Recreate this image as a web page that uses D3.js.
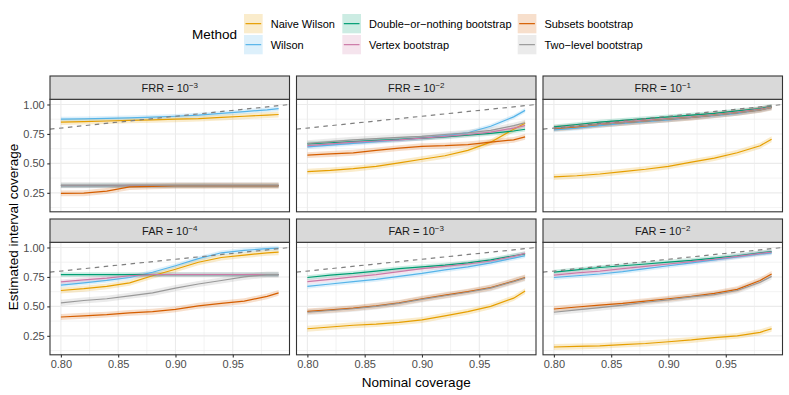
<!DOCTYPE html>
<html>
<head>
<meta charset="utf-8">
<script src="https://cdn.jsdelivr.net/npm/d3@7"></script>
<style>
  body { margin: 0; background: #fff; }
  svg { display: block; font-family: "Liberation Sans", Arial, Helvetica, sans-serif; }
</style>
</head>
<body>
<svg id="chart" width="789" height="395"></svg>
<script>
(function () {
  "use strict";

  // nominal coverage levels on the x axis
  const nominal = [0.80, 0.82, 0.84, 0.86, 0.88, 0.90, 0.92, 0.94, 0.96, 0.98, 0.99];

  const methods = ["Naive Wilson", "Wilson", "Double−or−nothing bootstrap",
    "Vertex bootstrap", "Subsets bootstrap", "Two−level bootstrap"];
  const methodColors = ["#E69F00", "#56B4E9", "#009E73", "#CC79A7", "#D55E00", "#999999"];

  // panels: FRR 1e-3, 1e-2, 1e-1, FAR 1e-4, 1e-3, 1e-2
  const panelRates = ["FRR", "FRR", "FRR", "FAR", "FAR", "FAR"];
  const panelExponents = ["−3", "−2", "−1", "−4", "−3", "−2"];

  // estimated coverage, one row per panel
  const naiveWilson = [
    [0.85, 0.855, 0.86, 0.865, 0.87, 0.875, 0.88, 0.89, 0.90, 0.91, 0.915],
    [0.43, 0.44, 0.455, 0.475, 0.505, 0.535, 0.565, 0.61, 0.68, 0.79, 0.84],
    [0.385, 0.395, 0.41, 0.43, 0.45, 0.475, 0.51, 0.545, 0.59, 0.65, 0.705],
    [0.635, 0.65, 0.67, 0.70, 0.76, 0.815, 0.875, 0.915, 0.935, 0.955, 0.96],
    [0.31, 0.325, 0.34, 0.35, 0.365, 0.385, 0.42, 0.455, 0.50, 0.57, 0.63],
    [0.155, 0.16, 0.165, 0.175, 0.185, 0.20, 0.215, 0.235, 0.25, 0.28, 0.31],
  ];
  const wilson = [
    [0.875, 0.878, 0.882, 0.886, 0.892, 0.90, 0.91, 0.925, 0.94, 0.955, 0.965],
    [0.64, 0.655, 0.67, 0.685, 0.70, 0.715, 0.735, 0.76, 0.815, 0.895, 0.95],
    [0.785, 0.80, 0.82, 0.84, 0.855, 0.87, 0.89, 0.905, 0.925, 0.955, 0.975],
    [0.68, 0.70, 0.72, 0.745, 0.79, 0.845, 0.905, 0.955, 0.975, 0.99, 0.995],
    [0.67, 0.69, 0.71, 0.73, 0.755, 0.78, 0.81, 0.835, 0.87, 0.91, 0.93],
    [0.745, 0.76, 0.775, 0.795, 0.82, 0.845, 0.87, 0.895, 0.92, 0.945, 0.955],
  ];
  const doubleOrNothing = [
    [0.31, 0.31, 0.312, 0.311, 0.31, 0.31, 0.311, 0.31, 0.31, 0.31, 0.31],
    [0.665, 0.675, 0.685, 0.695, 0.705, 0.715, 0.725, 0.74, 0.755, 0.775, 0.79],
    [0.81, 0.83, 0.85, 0.865, 0.88, 0.895, 0.91, 0.925, 0.945, 0.965, 0.985],
    [0.77, 0.77, 0.77, 0.77, 0.77, 0.77, 0.77, 0.77, 0.77, 0.77, 0.77],
    [0.745, 0.765, 0.78, 0.80, 0.82, 0.835, 0.85, 0.87, 0.895, 0.93, 0.945],
    [0.79, 0.81, 0.83, 0.845, 0.86, 0.875, 0.89, 0.91, 0.93, 0.955, 0.965],
  ];
  const vertexBoot = [
    [0.31, 0.31, 0.31, 0.312, 0.31, 0.31, 0.31, 0.311, 0.31, 0.31, 0.31],
    [0.65, 0.665, 0.68, 0.69, 0.70, 0.715, 0.73, 0.745, 0.765, 0.80, 0.82],
    [0.80, 0.815, 0.835, 0.85, 0.865, 0.88, 0.895, 0.915, 0.935, 0.96, 0.98],
    [0.708, 0.725, 0.74, 0.76, 0.77, 0.77, 0.77, 0.77, 0.77, 0.77, 0.77],
    [0.71, 0.73, 0.75, 0.77, 0.795, 0.82, 0.84, 0.86, 0.885, 0.925, 0.95],
    [0.765, 0.785, 0.80, 0.82, 0.84, 0.86, 0.88, 0.90, 0.925, 0.95, 0.96],
  ];
  const subsetsBoot = [
    [0.245, 0.247, 0.265, 0.30, 0.305, 0.31, 0.31, 0.31, 0.31, 0.31, 0.31],
    [0.57, 0.58, 0.59, 0.61, 0.63, 0.645, 0.65, 0.66, 0.68, 0.70, 0.725],
    [0.795, 0.81, 0.83, 0.845, 0.86, 0.875, 0.89, 0.91, 0.93, 0.955, 0.975],
    [0.41, 0.42, 0.43, 0.445, 0.455, 0.475, 0.505, 0.525, 0.545, 0.585, 0.615],
    [0.458, 0.47, 0.485, 0.505, 0.53, 0.565, 0.595, 0.625, 0.66, 0.715, 0.745],
    [0.478, 0.495, 0.51, 0.525, 0.545, 0.565, 0.585, 0.61, 0.645, 0.72, 0.775],
  ];
  const twoLevelBoot = [
    [0.315, 0.315, 0.315, 0.316, 0.315, 0.315, 0.315, 0.316, 0.315, 0.315, 0.315],
    [0.67, 0.685, 0.70, 0.71, 0.72, 0.73, 0.745, 0.76, 0.78, 0.82, 0.845],
    [0.80, 0.815, 0.83, 0.845, 0.86, 0.875, 0.89, 0.91, 0.93, 0.955, 0.975],
    [0.53, 0.55, 0.565, 0.59, 0.615, 0.655, 0.69, 0.72, 0.75, 0.77, 0.77],
    [0.45, 0.465, 0.48, 0.50, 0.525, 0.56, 0.59, 0.62, 0.655, 0.71, 0.74],
    [0.45, 0.47, 0.49, 0.51, 0.535, 0.555, 0.58, 0.60, 0.635, 0.705, 0.755],
  ];
  // half width of the confidence band, per method
  const ribbonHalf = [0.025, 0.02, 0.02, 0.02, 0.025, 0.026];

  const xTicks = [0.80, 0.85, 0.90, 0.95];
  const xMinor = [0.825, 0.875, 0.925, 0.975];
  const yTicks = [0.25, 0.50, 0.75, 1.00];
  const yMinor = [0.125, 0.375, 0.625, 0.875];

  const seriesByMethod = [naiveWilson, wilson, doubleOrNothing, vertexBoot, subsetsBoot, twoLevelBoot];

  const svg = d3.select("#chart");
  const left = 50, panelW = 239.5, gapX = 7;
  const rowTop = [76, 219];
  const stripH = 23.3, panelH = 112.5;
  const ink = "#333333";

  const x = d3.scaleLinear().domain([0.7905, 0.9995]).range([0, panelW]);
  const y = d3.scaleLinear().domain([0.089, 1.044]).range([panelH, 0]);

  const line = d3.line().x((d) => x(d.x)).y((d) => y(d.v));
  const area = d3.area().x((d) => x(d.x)).y0((d) => y(d.v - d.h)).y1((d) => y(d.v + d.h));

  const defs = svg.append("defs");

  panelRates.forEach((rate, i) => {
    const col = i % 3, row = Math.floor(i / 3);
    const px = left + col * (panelW + gapX);
    const py = rowTop[row] + stripH;
    const g = svg.append("g").attr("transform", `translate(${px},${py})`);

    defs.append("clipPath").attr("id", `clip-${i}`)
      .append("rect").attr("width", panelW).attr("height", panelH);

    g.append("rect").attr("width", panelW).attr("height", panelH).attr("fill", "#fff");

    // grid
    const grid = g.append("g");
    grid.selectAll(".vmin").data(xMinor).enter().append("line")
      .attr("x1", x).attr("x2", x).attr("y1", 0).attr("y2", panelH)
      .attr("stroke", "#EBEBEB").attr("stroke-width", 0.6);
    grid.selectAll(".hmin").data(yMinor).enter().append("line")
      .attr("y1", y).attr("y2", y).attr("x1", 0).attr("x2", panelW)
      .attr("stroke", "#EBEBEB").attr("stroke-width", 0.6);
    grid.selectAll(".vmaj").data(xTicks).enter().append("line")
      .attr("x1", x).attr("x2", x).attr("y1", 0).attr("y2", panelH)
      .attr("stroke", "#EBEBEB").attr("stroke-width", 1.1);
    grid.selectAll(".hmaj").data(yTicks).enter().append("line")
      .attr("y1", y).attr("y2", y).attr("x1", 0).attr("x2", panelW)
      .attr("stroke", "#EBEBEB").attr("stroke-width", 1.1);

    const plot = g.append("g").attr("clip-path", `url(#clip-${i})`);

    seriesByMethod.forEach((series, m) => {
      const pts = nominal.map((nx, k) => ({ x: nx, v: series[i][k], h: ribbonHalf[m] }));
      plot.append("path").attr("d", area(pts))
        .attr("fill", methodColors[m]).attr("fill-opacity", 0.2).attr("stroke", "none");
    });
    seriesByMethod.forEach((series, m) => {
      const pts = nominal.map((nx, k) => ({ x: nx, v: series[i][k] }));
      plot.append("path").attr("d", line(pts))
        .attr("fill", "none").attr("stroke", methodColors[m]).attr("stroke-width", 1.2);
    });

    // y = x reference
    const dom = x.domain();
    plot.append("line")
      .attr("x1", x(dom[0])).attr("y1", y(dom[0]))
      .attr("x2", x(dom[1])).attr("y2", y(dom[1]))
      .attr("stroke", "#7F7F7F").attr("stroke-width", 1.2).attr("stroke-dasharray", "4.5,4.5");

    g.append("rect").attr("width", panelW).attr("height", panelH)
      .attr("fill", "none").attr("stroke", ink).attr("stroke-width", 1.1);

    // strip
    const strip = svg.append("g").attr("transform", `translate(${px},${rowTop[row]})`);
    strip.append("rect").attr("width", panelW).attr("height", stripH)
      .attr("fill", "#D9D9D9").attr("stroke", ink).attr("stroke-width", 1.1);
    const st = strip.append("text")
      .attr("x", panelW / 2).attr("y", stripH / 2 + 4.5)
      .attr("text-anchor", "middle").attr("font-size", 11).attr("fill", "#1A1A1A");
    st.append("tspan").text(`${rate} = 10`);
    st.append("tspan").attr("dy", -4.5).attr("font-size", 8).text(panelExponents[i]);

    // axes
    if (col === 0) {
      const ay = g.append("g").call(d3.axisLeft(y).tickValues(yTicks)
        .tickFormat(d3.format(".2f")).tickSize(2.75).tickPadding(2.5));
      ay.select(".domain").remove();
      ay.selectAll("line").attr("stroke", ink).attr("stroke-width", 1.1);
      ay.selectAll("text").attr("fill", "#4D4D4D").attr("font-size", 11)
        .attr("font-family", "Liberation Sans, Arial, sans-serif");
    }
    if (row === 1) {
      const ax = g.append("g").attr("transform", `translate(0,${panelH})`)
        .call(d3.axisBottom(x).tickValues(xTicks)
          .tickFormat(d3.format(".2f")).tickSize(2.75).tickPadding(2.5));
      ax.select(".domain").remove();
      ax.selectAll("line").attr("stroke", ink).attr("stroke-width", 1.1);
      ax.selectAll("text").attr("fill", "#4D4D4D").attr("font-size", 11)
        .attr("font-family", "Liberation Sans, Arial, sans-serif");
    }
  });

  // axis titles
  const plotRight = left + 3 * panelW + 2 * gapX;
  svg.append("text")
    .attr("x", (left + plotRight) / 2).attr("y", 386.5)
    .attr("text-anchor", "middle").attr("font-size", 13.5).attr("fill", "#000")
    .text("Nominal coverage");
  const yMid = (rowTop[0] + stripH + rowTop[1] + stripH + panelH) / 2;
  svg.append("text")
    .attr("transform", `translate(17.5,${yMid}) rotate(-90)`)
    .attr("text-anchor", "middle").attr("font-size", 13.5).attr("fill", "#000")
    .text("Estimated interval coverage");

  // legend
  const legend = svg.append("g");
  legend.append("text").attr("x", 192).attr("y", 39)
    .attr("font-size", 13.5).attr("fill", "#000").text("Method");
  const keyCols = [244, 342.3, 517.7];
  const keyRows = [14, 35];
  const keyW = 18.7, keyH = 19.3;
  methods.forEach((name, m) => {
    const kx = keyCols[Math.floor(m / 2)];
    const ky = keyRows[m % 2];
    legend.append("rect").attr("x", kx).attr("y", ky).attr("width", keyW).attr("height", keyH)
      .attr("fill", methodColors[m]).attr("fill-opacity", 0.2);
    legend.append("line")
      .attr("x1", kx + 1.5).attr("x2", kx + keyW - 1.5)
      .attr("y1", ky + keyH / 2).attr("y2", ky + keyH / 2)
      .attr("stroke", methodColors[m]).attr("stroke-width", 1.2);
    legend.append("text").attr("x", kx + 26.7).attr("y", ky + keyH / 2 + 4)
      .attr("font-size", 11).attr("fill", "#000").text(name);
  });
})();
</script>
</body>
</html>
